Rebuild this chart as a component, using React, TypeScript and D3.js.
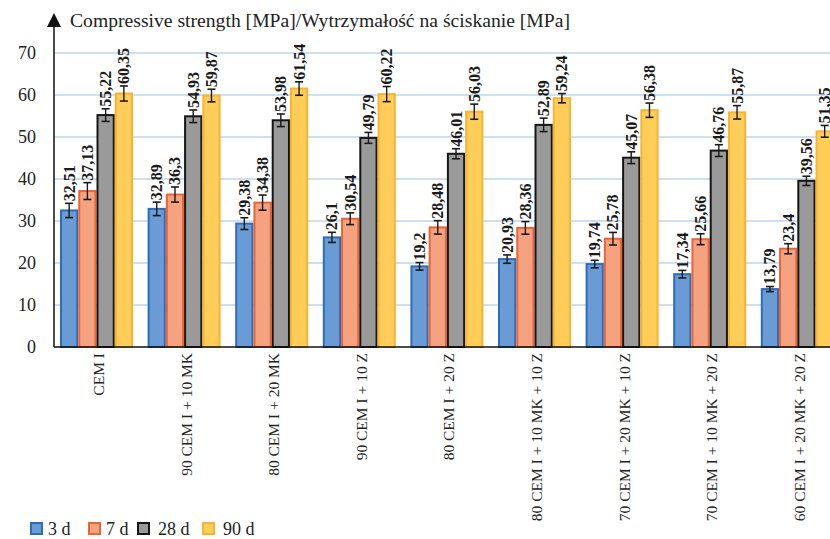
import * as d3 from "d3";

const categories = [
  "CEM I",
  "90 CEM I + 10 MK",
  "80 CEM I + 20 MK",
  "90 CEM I + 10 Z",
  "80 CEM I + 20 Z",
  "80 CEM I + 10 MK + 10 Z",
  "70 CEM I + 20 MK + 10 Z",
  "70 CEM I + 10 MK + 20 Z",
  "60 CEM I + 20 MK + 20 Z",
];

const seriesNames = ["3 d", "7 d", "28 d", "90 d"];

const d3Values = [32.51, 32.89, 29.38, 26.1, 19.2, 20.93, 19.74, 17.34, 13.79];
const d7Values = [37.13, 36.3, 34.38, 30.54, 28.48, 28.36, 25.78, 25.66, 23.4];
const d28Values = [55.22, 54.93, 53.98, 49.79, 46.01, 52.89, 45.07, 46.76, 39.56];
const d90Values = [60.35, 59.87, 61.54, 60.22, 56.03, 59.24, 56.38, 55.87, 51.35];

// error bar half-widths
const d3Err = [1.7, 1.6, 1.4, 1.2, 0.9, 1.0, 0.9, 0.9, 0.6];
const d7Err = [2.0, 1.8, 1.8, 1.4, 1.6, 1.5, 1.5, 1.3, 1.2];
const d28Err = [1.5, 1.5, 1.5, 1.3, 1.2, 1.6, 1.4, 1.4, 1.1];
const d90Err = [1.8, 1.5, 1.6, 1.8, 1.8, 1.1, 1.7, 1.6, 1.4];

const yTicks = [0, 10, 20, 30, 40, 50, 60, 70];

const fills = ["#6B9BD5", "#F4A27F", "#9A9A9A", "#FFCD58"];
const strokes = ["#2C6CB8", "#EC6434", "#161616", "#F7B433"];

const values = [d3Values, d7Values, d28Values, d90Values];
const errors = [d3Err, d7Err, d28Err, d90Err];

const width = 830;
const height = 539;
const font = "'Liberation Serif', 'Times New Roman', serif";

const fmt = (v: number) => String(v).replace(".", ",");

export default function App() {
  const left = 54;
  const base = 347;

  const y = d3.scaleLinear().domain([0, 70]).range([base, 53]);
  const x0 = d3
    .scaleBand<string>()
    .domain(categories)
    .range([left, left + 9 * 87.6])
    .padding(0);
  const x1 = d3
    .scaleBand<string>()
    .domain(seriesNames)
    .range([6, 6 + 73])
    .padding(0);
  const bw = x1.bandwidth();

  const legendX = [30, 88, 137, 202];
  const ts = { fontFamily: font };

  return (
    <svg
      width={width}
      height={height}
      style={{ position: "absolute", left: 0, top: 0, background: "#fff" }}
    >
      {/* gridlines */}
      {yTicks
        .filter((t) => t > 0)
        .map((t) => (
          <line key={t} x1={left} x2={width} y1={y(t)} y2={y(t)} stroke="#BCD6EC" strokeWidth={1.3} />
        ))}

      {/* y tick labels */}
      {yTicks.map((t) => (
        <text key={t} x={36} y={y(t)} textAnchor="end" dominantBaseline="central" fontSize={18} fill="#222" style={ts}>
          {t}
        </text>
      ))}

      {/* bars */}
      {categories.map((c, i) => (
        <g key={c} transform={`translate(${x0(c)},0)`}>
          {seriesNames.map((s, j) => {
            const v = values[j][i];
            const e = errors[j][i];
            const bx = x1(s)!;
            const cx = bx + bw / 2;
            return (
              <g key={s}>
                <rect
                  x={bx + 1}
                  y={y(v)}
                  width={bw - 2}
                  height={base - y(v)}
                  fill={fills[j]}
                  stroke={strokes[j]}
                  strokeWidth={2}
                />
                <line x1={cx} x2={cx} y1={y(v + e)} y2={y(v - e)} stroke="#1a1a1a" strokeWidth={1.4} />
                <line x1={cx - 4} x2={cx + 4} y1={y(v + e)} y2={y(v + e)} stroke="#1a1a1a" strokeWidth={1.6} />
                <line x1={cx - 4} x2={cx + 4} y1={y(v - e)} y2={y(v - e)} stroke="#1a1a1a" strokeWidth={1.6} />
                <text
                  transform={`translate(${cx},${y(v + e) - 2}) rotate(-90)`}
                  dominantBaseline="central"
                  fontSize={16}
                  fontWeight="bold"
                  fill="#1a1a1a"
                  style={ts}
                >
                  {fmt(v)}
                </text>
              </g>
            );
          })}
          <text
            transform={`translate(${6 + 73 / 2 + 2},${base + 6}) rotate(-90)`}
            textAnchor="end"
            dominantBaseline="central"
            fontSize={15.5}
            fill="#222"
            style={ts}
          >
            {c}
          </text>
        </g>
      ))}

      {/* axes */}
      <line x1={left} x2={width} y1={base} y2={base} stroke="#111" strokeWidth={1.5} />
      <line x1={left} x2={left} y1={base} y2={20} stroke="#111" strokeWidth={1.5} />
      <path d={`M${left - 7},${27} L${left},${13} L${left + 7},${27} Z`} fill="#111" />
      <text x={70} y={27} fontSize={19.5} fill="#222" style={ts} textLength={500} lengthAdjust="spacingAndGlyphs">
        Compressive strength [MPa]/Wytrzymałość na ściskanie [MPa]
      </text>

      {/* legend */}
      {seriesNames.map((s, j) => (
        <g key={s} transform={`translate(${legendX[j]},522)`}>
          <rect x={1} y={1} width={11} height={11} fill={fills[j]} stroke={strokes[j]} strokeWidth={2} />
          <text x={j < 2 ? 18 : 21} y={12.5} fontSize={18} fill="#222" style={ts}>
            {s}
          </text>
        </g>
      ))}
    </svg>
  );
}
